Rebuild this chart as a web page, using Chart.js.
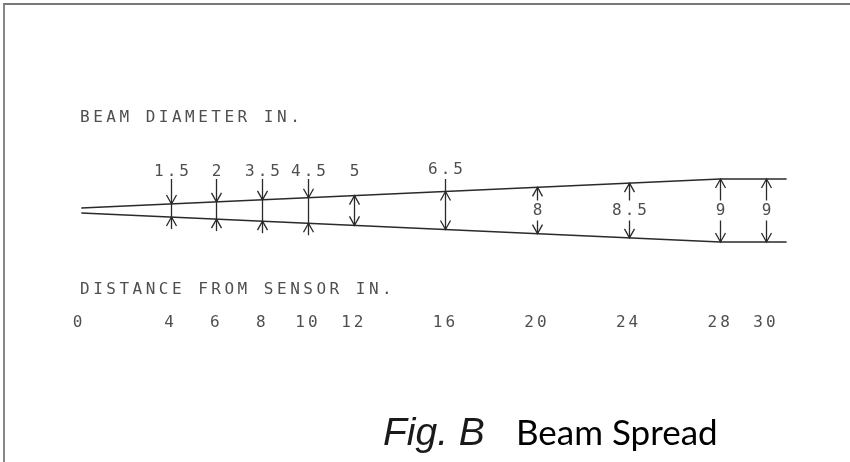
<!DOCTYPE html>
<html>
<head>
<meta charset="utf-8">
<title>Beam Spread</title>
<script src="https://cdn.jsdelivr.net/npm/chart.js@4.4.0/dist/chart.umd.min.js"></script>
<style>
html,body{margin:0;padding:0;background:#fff;}
#wrap{position:relative;width:850px;height:462px;overflow:hidden;}
#frame{position:absolute;left:3px;top:3px;width:900px;height:500px;border-top:2px solid #777;border-left:2px solid #888;pointer-events:none;}
canvas{position:absolute;left:0;top:0;}
</style>
</head>
<body>
<div id="wrap">
  <canvas id="myChart" width="850" height="462"></canvas>
  <div id="frame"></div>
</div>
<script>
// distance from sensor (in) and beam diameter (in) at that distance
const distances = [4, 6, 8, 10, 12, 16, 20, 24, 28, 30];
const diameters = ['1.5', '2', '3.5', '4.5', '5', '6.5', '8', '8.5', '9', '9'];
const distanceTicks = [0, 4, 6, 8, 10, 12, 16, 20, 24, 28, 30];
// outline of the beam as drawn (half width, drawing units)
const beamX = [0.1, 28, 30.9];
const beamHalf = [0.35, 4.5, 4.5];

const CAD_FONT = '"DejaVu Sans Mono", monospace';
const INK = '#2a2a2a';
const TEXT = '#4f4f4f';

function edgeAt(x){
    for (let i = 1; i < beamX.length; i++){
        if (x <= beamX[i]){
            const t = (x - beamX[i-1]) / (beamX[i] - beamX[i-1]);
            return beamHalf[i-1] + t * (beamHalf[i] - beamHalf[i-1]);
        }
    }
    return beamHalf[beamHalf.length-1];
}

// how each dimension is marked on the drawing
const markStyle = ['in','in','in','in','span','lead','mid','mid','mid','mid'];

function head(ctx, x, tipY, dir){
    // dir = 1 -> points down, -1 -> points up
    ctx.beginPath();
    ctx.moveTo(x - 5, tipY - dir*9);
    ctx.lineTo(x, tipY);
    ctx.lineTo(x + 5, tipY - dir*9);
    ctx.stroke();
}
function vline(ctx, x, y1, y2){
    ctx.beginPath();
    ctx.moveTo(x, y1);
    ctx.lineTo(x, y2);
    ctx.stroke();
}

const spacingHack = {
    id: 'spacingHack',
    beforeDraw(chart){ chart.ctx.letterSpacing = '3px'; },
    afterDraw(chart){ chart.ctx.letterSpacing = '0px'; }
};

const dimensions = {
    id: 'dimensions',
    afterDatasetsDraw(chart){
        const ctx = chart.ctx;
        const xs = chart.scales.x, ys = chart.scales.y;
        ctx.save();
        ctx.letterSpacing = '3.5px';
        ctx.fillStyle = TEXT;
        ctx.font = '16px ' + CAD_FONT;
        ctx.textBaseline = 'middle';
        ctx.textAlign = 'left';
        ctx.fillText('BEAM DIAMETER IN.', 80, 118);
        ctx.fillText('DISTANCE FROM SENSOR IN.', 80, 290);

        ctx.strokeStyle = INK;
        ctx.lineWidth = 1.3;
        ctx.textAlign = 'center';
        ctx.letterSpacing = '3px';
        const labelY = 172;
        distances.forEach((d, i) => {
            const x = Math.round(xs.getPixelForValue(d)) + 0.5;
            const h = edgeAt(d);
            const top = ys.getPixelForValue(h);
            const bot = ys.getPixelForValue(-h);
            const mid = ys.getPixelForValue(0);
            const s = markStyle[i];
            if (s === 'in'){
                vline(ctx, x, labelY + 7, bot + 12);
                head(ctx, x, top, 1);
                head(ctx, x, bot, -1);
                ctx.fillText(diameters[i], x + 1.5, labelY);
            } else if (s === 'span' || s === 'lead'){
                vline(ctx, x, s === 'lead' ? labelY + 7 : top, bot);
                head(ctx, x, top, -1);
                head(ctx, x, bot, 1);
                ctx.fillText(diameters[i], x + 1.5, s === 'lead' ? labelY - 2 : labelY);
            } else {
                vline(ctx, x, top, mid - 10);
                vline(ctx, x, mid + 10, bot);
                head(ctx, x, top, -1);
                head(ctx, x, bot, 1);
                ctx.fillText(diameters[i], x + 1.5, mid);
            }
        });

        ctx.letterSpacing = '0px';
        ctx.textAlign = 'left';
        ctx.textBaseline = 'alphabetic';
        ctx.fillStyle = '#1a1a1a';
        ctx.font = 'italic 39px "Liberation Sans", Arial, sans-serif';
        ctx.fillText('Fig. B', 383, 445);
        ctx.fillStyle = '#000';
        ctx.font = '35px Lato, sans-serif';
        ctx.fillText('Beam Spread', 516, 445);
        ctx.restore();
    }
};

const PX_PER_IN = 22.9, ORIGIN_X = 79;
const PX_PER_UNIT = 7, CENTER_Y = 210.5;

const ctx = document.getElementById('myChart').getContext('2d');
new Chart(ctx, {
    type: 'scatter',
    data: {
        datasets: [
            {
                label: 'upper',
                data: beamX.map((x, i) => ({x: x, y: beamHalf[i]})),
                showLine: true,
                borderColor: INK,
                borderWidth: 1.5,
                pointRadius: 0,
                tension: 0
            },
            {
                label: 'lower',
                data: beamX.map((x, i) => ({x: x, y: -beamHalf[i]})),
                showLine: true,
                borderColor: INK,
                borderWidth: 1.5,
                pointRadius: 0,
                tension: 0
            }
        ]
    },
    options: {
        responsive: false,
        animation: false,
        devicePixelRatio: 1,
        layout: { padding: 0 },
        plugins: {
            legend: { display: false },
            tooltip: { enabled: false },
            title: { display: false }
        },
        scales: {
            x: {
                type: 'linear',
                min: -ORIGIN_X / PX_PER_IN,
                max: (850 - ORIGIN_X) / PX_PER_IN,
                position: { y: (CENTER_Y - 313) / PX_PER_UNIT },
                grid: { display: false, drawTicks: false },
                border: { display: false },
                afterBuildTicks: axis => { axis.ticks = distanceTicks.map(v => ({value: v})); },
                ticks: {
                    autoSkip: false,
                    maxRotation: 0,
                    minRotation: 0,
                    padding: 0,
                    color: TEXT,
                    font: { family: CAD_FONT, size: 16 },
                    callback: v => String(v)
                }
            },
            y: {
                type: 'linear',
                display: false,
                min: (CENTER_Y - 462) / PX_PER_UNIT,
                max: CENTER_Y / PX_PER_UNIT
            }
        }
    },
    plugins: [spacingHack, dimensions]
});
</script>
</body>
</html>
